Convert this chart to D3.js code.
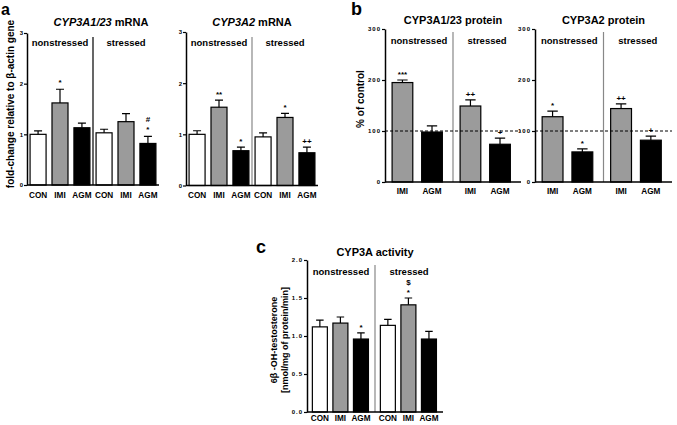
<!DOCTYPE html>
<html><head><meta charset="utf-8">
<script src="https://cdn.jsdelivr.net/npm/d3@7"></script>
<style>body{margin:0;background:#fff} svg{display:block;font-family:"Liberation Sans",Arial,sans-serif;font-weight:bold}</style>
</head><body><svg id="chart" width="677" height="425"></svg>
<script>
// ---------- data ----------
const groups = ["nonstressed", "stressed"];
const mrnaCats = ["CON", "IMI", "AGM"];
const protCats = ["IMI", "AGM"];
const catColors = ["#ffffff", "#9b9b9b", "#000000"];

const cyp3a1mRNA = [1.00, 1.62, 1.13, 1.03, 1.25, 0.82];
const cyp3a1mRNAErr = [0.07, 0.27, 0.09, 0.07, 0.16, 0.14];
const cyp3a1mRNAMarks = [[], ["*"], [], [], [], ["#", "*"]];

const cyp3a2mRNA = [1.00, 1.53, 0.68, 0.95, 1.33, 0.64];
const cyp3a2mRNAErr = [0.07, 0.14, 0.07, 0.08, 0.08, 0.11];
const cyp3a2mRNAMarks = [[], ["**"], ["*"], [], ["*"], ["++"]];

const cyp3a1Prot = [195, 98, 149, 74];
const cyp3a1ProtErr = [5, 12, 12, 12];
const cyp3a1ProtMarks = [["***"], [], ["++"], ["+"]];

const cyp3a2Prot = [128, 59, 144, 82];
const cyp3a2ProtErr = [11, 6, 9, 8];
const cyp3a2ProtMarks = [["*"], ["*"], ["++"], ["+"]];

const activity = [1.12, 1.17, 0.96, 1.14, 1.41, 0.96];
const activityErr = [0.09, 0.08, 0.08, 0.08, 0.09, 0.10];
const activityMarks = [[], [], ["*"], [], ["$", "*"], []];

const mrnaTicks = [0, 1, 2, 3];
const protTicks = [0, 100, 200, 300];
const actTicks = [0, 0.5, 1.0, 1.5, 2.0];

// ---------- drawing ----------
const svg = d3.select("#chart");
const color = d3.scaleOrdinal(mrnaCats, catColors);

function panel(o) {
  const g = svg.append("g");
  const y = d3.scaleLinear().domain(o.domain).range([o.yb, o.yt]);
  const gx = d3.scaleBand().domain(groups).range([o.x0, o.x1]);
  const ix = d3.scaleBand().domain(o.cats).range([0, gx.bandwidth()])
    .paddingInner(o.pi).paddingOuter(o.po).align(o.al);
  const n = o.cats.length;
  const items = o.values.map((v, i) => ({
    v, e: o.err[i], m: o.marks[i],
    grp: groups[Math.floor(i / n)], cat: o.cats[i % n]
  }));
  const bx = d => gx(d.grp) + ix(d.cat);
  const bw = ix.bandwidth();

  // divider
  g.append("line").attr("x1", gx("stressed")).attr("x2", gx("stressed"))
    .attr("y1", o.divTop).attr("y2", y(0))
    .attr("stroke", o.divColor).attr("stroke-width", 1.2);

  // bars
  g.selectAll("rect.bar").data(items).join("rect")
    .attr("x", bx).attr("width", bw)
    .attr("y", d => y(d.v)).attr("height", d => y(0) - y(d.v))
    .attr("fill", d => color(d.cat)).attr("stroke", "#000").attr("stroke-width", 1.2);

  // error bars
  const cap = bw * 0.5;
  g.selectAll("path.err").data(items).join("path")
    .attr("d", d => {
      const cx = bx(d) + bw / 2;
      return `M${cx},${y(d.v)}V${y(d.v + d.e)}M${cx - cap / 2},${y(d.v + d.e)}H${cx + cap / 2}`;
    })
    .attr("stroke", "#000").attr("stroke-width", 1.2).attr("fill", "none");

  // significance marks
  items.forEach(d => {
    const cx = bx(d) + bw / 2;
    const top = y(d.v + d.e);
    const k = d.m.length;
    d.m.forEach((s, j) => {
      g.append("text").attr("x", cx).attr("y", top - o.markGap - (k - 1 - j) * 10)
        .attr("text-anchor", "middle").attr("font-size", 8).attr("fill", "#000").text(s);
    });
  });

  // reference line
  if (o.ref !== undefined) {
    g.append("line").attr("x1", o.x0).attr("x2", o.x1)
      .attr("y1", y(o.ref)).attr("y2", y(o.ref))
      .attr("stroke", "#000").attr("stroke-width", 1).attr("stroke-dasharray", "3,2");
  }

  // y axis
  const ax = g.append("g").attr("transform", `translate(${o.x0},0)`)
    .call(d3.axisLeft(y).tickValues(o.ticks).tickSize(3).tickSizeOuter(0).tickFormat(o.fmt));
  ax.select(".domain").attr("stroke-width", 1.5);
  ax.selectAll(".tick line").attr("stroke-width", 1.2);
  ax.selectAll(".tick text").attr("font-size", 6).attr("font-family", "Liberation Sans, Arial, sans-serif")
    .attr("font-weight", "bold").attr("x", -4).attr("letter-spacing", o.tickSpacing || 0);

  // baseline
  g.append("line").attr("x1", o.x0).attr("x2", o.x1).attr("y1", y(0)).attr("y2", y(0))
    .attr("stroke", "#000").attr("stroke-width", 1.5);

  // category labels
  g.selectAll("text.cat").data(items).join("text")
    .attr("transform", d => `translate(${bx(d) + bw / 2},${o.catY}) scale(1,1.15)`)
    .attr("text-anchor", "middle").attr("font-size", 8.2).text(d => d.cat);

  // group labels
  groups.forEach(gr => {
    g.append("text").attr("x", gx(gr) + gx.bandwidth() / 2).attr("y", o.grpY)
      .attr("text-anchor", "middle").attr("font-size", 9.5).text(gr);
  });

  // title
  const t = g.append("text").attr("x", o.titleX !== undefined ? o.titleX : (o.x0 + o.x1) / 2)
    .attr("y", o.titleY).attr("text-anchor", "middle").attr("font-size", 11);
  if (o.titleItalic) t.append("tspan").attr("font-style", "italic").text(o.titleItalic);
  t.append("tspan").text(o.title);
}

const fmtInt = d3.format("d");
const fmt1 = d3.format(".1f");

panel({ x0: 27, x1: 159, yb: 185, yt: 33, domain: [0, 3], ticks: mrnaTicks, fmt: fmtInt,
  cats: mrnaCats, values: cyp3a1mRNA, err: cyp3a1mRNAErr, marks: cyp3a1mRNAMarks,
  pi: 0.27, po: 0.14, al: 0.5, divTop: 37, divColor: "#000", markGap: 4,
  catY: 198, grpY: 46, titleX: 101, titleY: 26, titleItalic: "CYP3A1/23", title: " mRNA" });

panel({ x0: 186, x1: 318, yb: 185.5, yt: 32, domain: [0, 3], ticks: mrnaTicks, fmt: fmtInt,
  cats: mrnaCats, values: cyp3a2mRNA, err: cyp3a2mRNAErr, marks: cyp3a2mRNAMarks,
  pi: 0.27, po: 0.14, al: 0.5, divTop: 37, divColor: "#888", markGap: 3,
  catY: 198, grpY: 46, titleY: 26, titleItalic: "CYP3A2", title: " mRNA" });

panel({ x0: 385, x1: 521, yb: 182, yt: 29, domain: [0, 300], ticks: protTicks, fmt: fmtInt,
  cats: protCats, values: cyp3a1Prot, err: cyp3a1ProtErr, marks: cyp3a1ProtMarks,
  pi: 0.3, po: 0.3, al: 0.4, divTop: 32, divColor: "#888", markGap: 3, ref: 100, tickSpacing: 1,
  catY: 194, grpY: 44, titleY: 24, title: "CYP3A1/23 protein" });

panel({ x0: 535, x1: 672, yb: 182, yt: 29, domain: [0, 300], ticks: protTicks, fmt: fmtInt,
  cats: protCats, values: cyp3a2Prot, err: cyp3a2ProtErr, marks: cyp3a2ProtMarks,
  pi: 0.3, po: 0.3, al: 0.4, divTop: 32, divColor: "#888", markGap: 3, ref: 100, tickSpacing: 1,
  catY: 194, grpY: 44, titleY: 24, title: "CYP3A2 protein" });

panel({ x0: 307, x1: 443, yb: 412, yt: 260, domain: [0, 2], ticks: actTicks, fmt: fmt1,
  cats: mrnaCats, values: activity, err: activityErr, marks: activityMarks,
  pi: 0.27, po: 0.29, al: 0.45, divTop: 265, divColor: "#888", markGap: 3, tickSpacing: 1,
  catY: 421, grpY: 275, titleY: 256, title: "CYP3A activity" });

// panel letters
[["a", 1, 15, 16], ["b", 351, 15, 18], ["c", 256, 253, 18]].forEach(([l, x, yy, fs]) =>
  svg.append("text").attr("x", x).attr("y", yy).attr("font-size", fs).text(l));

// y-axis titles
function yTitle(lines, x, yc, size) {
  lines.forEach((s, i) =>
    svg.append("text").attr("transform", `translate(${x + i * (size + 2)},${yc}) rotate(-90)`)
      .attr("text-anchor", "middle").attr("font-size", size).text(s));
}
yTitle(["fold-change relative to β-actin gene"], 14, 104, 10);
yTitle(["% of control"], 364, 99, 10);
yTitle(["6β -OH-testosterone", "[nmol/mg of protein/min]"], 277, 340, 9);
</script></body></html>
